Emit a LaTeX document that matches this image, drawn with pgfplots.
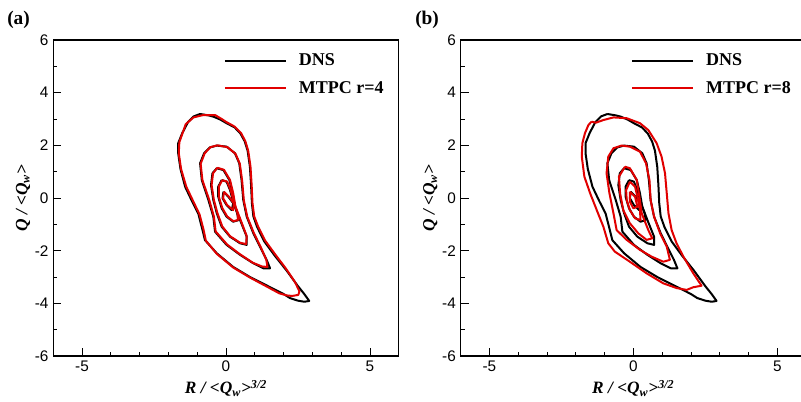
\documentclass[border=0pt]{standalone}
\usepackage{fontspec}
\setmainfont{Liberation Sans}
\newfontfamily\tnr{Liberation Serif}
\usepackage{pgfplots}
\usepackage{pgfplotstable}
\pgfplotsset{compat=1.18}
\definecolor{mtpc}{RGB}{225,0,0}

% DNS joint PDF contours of (R, Q), outermost to innermost
\pgfplotstableread{
x y
-0.90 3.19
-0.62 3.14
-0.44 3.09
-0.20 2.98
0.02 2.84
0.30 2.68
0.50 2.45
0.65 2.15
0.75 1.80
0.83 1.19
0.87 0.50
0.90 -0.20
0.95 -0.70
1.08 -1.10
1.33 -1.65
1.70 -2.20
2.10 -2.75
2.50 -3.35
2.72 -3.65
2.89 -3.91
2.72 -3.94
2.50 -3.90
2.22 -3.80
1.99 -3.64
1.41 -3.32
0.83 -3.00
0.25 -2.62
-0.32 -2.10
-0.73 -1.60
-0.82 -1.20
-0.96 -0.60
-1.19 -0.10
-1.42 0.43
-1.58 1.10
-1.66 1.70
-1.66 2.08
-1.52 2.46
-1.32 2.88
-1.12 3.10
-0.90 3.19
}\dnsA
\pgfplotstableread{
x y
-0.32 1.99
0.02 1.95
0.31 1.70
0.46 1.32
0.54 0.68
0.60 -0.08
0.72 -0.71
0.95 -1.34
1.18 -1.85
1.41 -2.35
1.53 -2.67
1.30 -2.67
0.95 -2.48
0.49 -2.16
0.02 -1.78
-0.38 -1.28
-0.44 -0.71
-0.61 -0.08
-0.84 0.68
-0.90 1.32
-0.76 1.70
-0.56 1.92
-0.32 1.99
}\dnsB
\pgfplotstableread{
x y
-0.32 1.13
-0.09 1.06
0.12 0.68
0.23 0.18
0.31 -0.33
0.49 -0.84
0.72 -1.47
0.72 -1.78
0.49 -1.72
0.14 -1.47
-0.15 -1.09
-0.32 -0.58
-0.44 -0.08
-0.52 0.49
-0.47 0.94
-0.32 1.13
}\dnsC
\pgfplotstableread{
x y
-0.15 0.68
0.02 0.62
0.14 0.30
0.25 -0.14
0.39 -0.58
0.43 -0.84
0.25 -0.90
0.02 -0.71
-0.15 -0.39
-0.27 0.05
-0.27 0.43
-0.15 0.68
}\dnsD
\pgfplotstableread{
x y
-0.09 0.24
0.08 0.05
0.25 -0.20
0.20 -0.46
0.02 -0.27
-0.12 -0.01
-0.09 0.24
}\dnsE

\pgfplotsset{
  qrpanel/.style={
    scale only axis, width=259.2pt, height=237pt,
    xmin=-6, xmax=6, ymin=-6, ymax=6,
    xtick={-5,0,5}, xticklabels={-5,0,5},
    ytick={-6,-4,-2,0,2,4,6}, yticklabels={-6,-4,-2,0,2,4,6},
    minor xtick={-4,-3,-2,-1,1,2,3,4},
    minor ytick={-5,-3,-1,1,3,5},
    tick pos=left, tick align=inside,
    major tick length=6pt, minor tick length=3pt,
    tick style={line width=0.6pt, black},
    axis line style={line width=0.8pt, black},
    tick label style={font=\fontsize{11.5}{13}\selectfont},
    label style={font=\tnr\fontsize{13}{15}\selectfont\bfseries\itshape},
    xlabel={R / <Q\textsubscript{w}>\textsuperscript{3/2}},
    ylabel={Q / <Q\textsubscript{w}>},
    xlabel style={at={(axis description cs:0.5,0)}, anchor=base, yshift=-28.5pt},
    ylabel style={at={(axis description cs:-0.0874,0.5)}, anchor=center},
    legend style={draw=none, fill=none, at={(0.494,0.965)}, anchor=north west,
      inner sep=0pt, font=\tnr\fontsize{13.5}{15}\selectfont\bfseries,
      row sep=6pt, /tikz/every odd column/.append style={column sep=7pt}},
    legend cell align=left,
    legend image code/.code={\draw[#1] (0pt,0pt) -- (45.75pt,0pt);},
  },
  dns/.style={black, line width=1.5pt, line join=round},
  pred/.style={mtpc, line width=1.5pt, line join=round},
}

\begin{document}
\begin{tikzpicture}
% ---------------- panel (a): MTPC r=4 ----------------
\begin{axis}[qrpanel, at={(39.9pt,34.5pt)}, anchor=south west]
\addlegendimage{black, line width=1.2pt}
\addlegendentry{DNS}
\addlegendimage{mtpc, line width=1.2pt}
\addlegendentry{MTPC r=4}
\addplot[dns, forget plot] table {\dnsA};
\addplot[dns, forget plot] table {\dnsB};
\addplot[dns, forget plot] table {\dnsC};
\addplot[dns, forget plot] table {\dnsD};
\addplot[dns, forget plot] table {\dnsE};
\addplot[pred, forget plot] coordinates {
(-0.79,3.15) (-0.38,3.15) (-0.15,3.00) (0.02,2.88) (0.30,2.71) (0.52,2.47)
(0.67,2.16) (0.77,1.80) (0.85,1.19) (0.89,0.50) (0.92,-0.20) (0.98,-0.70)
(1.12,-1.10) (1.36,-1.62) (1.72,-2.16) (2.08,-2.68) (2.40,-3.20) (2.55,-3.55)
(2.51,-3.68) (2.30,-3.72) (2.11,-3.70) (1.85,-3.62) (1.41,-3.36) (0.83,-3.02)
(0.25,-2.64) (-0.32,-2.12) (-0.70,-1.62) (-0.78,-1.20) (-0.92,-0.62) (-1.14,-0.12)
(-1.38,0.43) (-1.56,1.10) (-1.64,1.70) (-1.62,2.12) (-1.48,2.55) (-1.40,2.80)
(-1.13,3.06) (-0.79,3.15)};
\addplot[pred, forget plot] coordinates {
(-0.30,2.00) (0.05,1.93) (0.33,1.68) (0.48,1.30) (0.56,0.66) (0.62,-0.10)
(0.74,-0.72) (0.97,-1.34) (1.20,-1.85) (1.40,-2.35) (1.44,-2.62) (1.25,-2.60)
(0.93,-2.46) (0.49,-2.14) (0.04,-1.77) (-0.36,-1.27) (-0.42,-0.71) (-0.58,-0.08)
(-0.82,0.68) (-0.88,1.30) (-0.74,1.70) (-0.54,1.93) (-0.30,2.00)};
\addplot[pred, forget plot] coordinates {
(-0.30,1.15) (-0.07,1.07) (0.14,0.68) (0.25,0.18) (0.33,-0.33) (0.51,-0.84)
(0.72,-1.45) (0.70,-1.75) (0.49,-1.70) (0.14,-1.45) (-0.13,-1.08) (-0.30,-0.57)
(-0.42,-0.08) (-0.50,0.49) (-0.45,0.94) (-0.30,1.15)};
\addplot[pred, forget plot] coordinates {
(-0.13,0.68) (0.04,0.62) (0.16,0.30) (0.27,-0.14) (0.40,-0.58) (0.42,-0.84)
(0.25,-0.88) (0.04,-0.70) (-0.13,-0.38) (-0.25,0.05) (-0.25,0.43) (-0.13,0.68)};
\addplot[pred, forget plot] coordinates {
(-0.07,0.24) (0.10,0.05) (0.27,-0.20) (0.25,-0.46) (0.04,-0.27) (-0.10,-0.01) (-0.07,0.24)};
\end{axis}

% ---------------- panel (b): MTPC r=8 ----------------
\begin{axis}[qrpanel, at={(345.4pt,34.5pt)}, anchor=south west]
\addlegendimage{black, line width=1.2pt}
\addlegendentry{DNS}
\addlegendimage{mtpc, line width=1.2pt}
\addlegendentry{MTPC r=8}
\addplot[dns, forget plot] table {\dnsA};
\addplot[dns, forget plot] table {\dnsB};
\addplot[dns, forget plot] table {\dnsC};
\addplot[dns, forget plot] table {\dnsD};
\addplot[dns, forget plot] table {\dnsE};
\addplot[pred, forget plot] coordinates {
(-1.45,2.90) (-1.30,2.86) (-1.04,2.96) (-0.69,3.06) (-0.23,3.03) (0.23,2.84)
(0.52,2.58) (0.81,2.08) (0.98,1.57) (1.10,0.94) (1.16,0.18) (1.22,-0.58)
(1.33,-1.22) (1.50,-1.72) (1.74,-2.23) (2.08,-2.86) (2.37,-3.33) (2.08,-3.39)
(1.85,-3.49) (1.50,-3.42) (1.04,-3.24) (0.46,-2.86) (-0.12,-2.42) (-0.64,-2.04)
(-0.87,-1.72) (-1.04,-1.09) (-1.27,-0.46) (-1.50,0.18) (-1.70,0.81) (-1.79,1.57)
(-1.77,2.08) (-1.68,2.46) (-1.56,2.77) (-1.45,2.90)};
\addplot[pred, forget plot] coordinates {
(-0.41,1.99) (-0.12,1.95) (0.23,1.76) (0.44,1.32) (0.56,0.68) (0.60,-0.08)
(0.72,-0.71) (0.93,-1.34) (1.16,-1.85) (1.27,-2.35) (1.04,-2.42) (0.64,-2.23)
(0.23,-1.97) (-0.23,-1.59) (-0.58,-1.22) (-0.69,-0.58) (-0.83,0.18) (-0.93,0.94)
(-0.87,1.57) (-0.69,1.89) (-0.41,1.99)};
\addplot[pred, forget plot] coordinates {
(-0.29,1.19) (-0.12,1.13) (0.12,0.68) (0.21,0.05) (0.29,-0.58) (0.52,-1.22)
(0.66,-1.53) (0.46,-1.59) (0.17,-1.34) (-0.12,-0.96) (-0.35,-0.46) (-0.46,0.18)
(-0.50,0.81) (-0.29,1.19)};
\addplot[pred, forget plot] coordinates {
(-0.12,0.62) (0.06,0.43) (0.14,0.05) (0.23,-0.46) (0.25,-0.84) (0.06,-0.77)
(-0.12,-0.46) (-0.23,-0.08) (-0.25,0.30) (-0.12,0.62)};
\addplot[pred, forget plot] coordinates {
(-0.12,0.24) (0.06,0.05) (0.14,-0.33) (0.00,-0.39) (-0.12,-0.14) (-0.12,0.24)};
\end{axis}

% panel tags
\node[anchor=west, inner sep=0pt, font=\tnr\fontsize{14.5}{16}\selectfont\bfseries] at (5.25pt,286.5pt) {(a)};
\node[anchor=west, inner sep=0pt, font=\tnr\fontsize{14.5}{16}\selectfont\bfseries] at (311.25pt,286.5pt) {(b)};

\pgfresetboundingbox
\path[use as bounding box] (0pt,0pt) rectangle (600.75pt,301.5pt);
\end{tikzpicture}
\end{document}
